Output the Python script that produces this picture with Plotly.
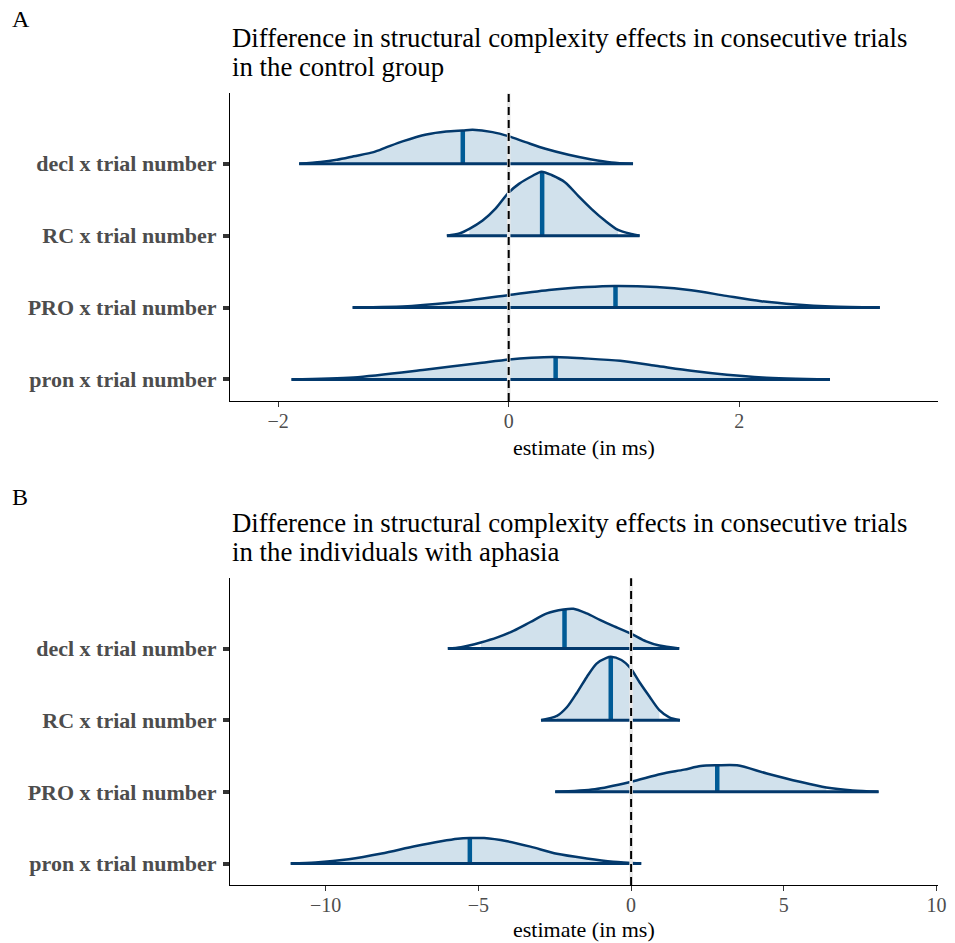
import plotly.graph_objects as go

W, H = 955, 943

# ---------------- data ----------------
params = ["pron x trial number", "PRO x trial number", "RC x trial number", "decl x trial number"]

# Panel A: control group (estimate, scaled density height in row units)
a_pron_x = [-1.883, -1.344, -0.727, -0.266, 0.006, 0.197, 0.382, 0.660, 0.967, 1.275, 1.584, 1.892, 2.200, 2.786]
a_pron_d = [0, 0.028, 0.135, 0.225, 0.278, 0.301, 0.312, 0.292, 0.259, 0.190, 0.120, 0.065, 0.028, 0]
a_pro_x = [-1.353, -0.839, -0.385, 0.003, 0.372, 0.675, 0.917, 1.280, 1.583, 1.886, 2.188, 2.491, 2.795, 3.218]
a_pro_d = [0, 0.023, 0.09, 0.175, 0.248, 0.285, 0.300, 0.285, 0.241, 0.162, 0.088, 0.042, 0.014, 0]
a_rc_x = [-0.536, -0.427, -0.341, -0.226, -0.112, -0.003, 0.089, 0.204, 0.284, 0.376, 0.490, 0.605, 0.719, 0.834, 0.948, 1.064, 1.135]
a_rc_d = [0, 0.032, 0.095, 0.21, 0.38, 0.595, 0.72, 0.83, 0.89, 0.84, 0.74, 0.55, 0.37, 0.21, 0.08, 0.023, 0]
a_decl_x = [-1.817, -1.631, -1.488, -1.344, -1.172, -1.058, -0.914, -0.714, -0.542, -0.398, -0.312, -0.140, -0.003, 0.146, 0.318, 0.519, 0.719, 0.891, 1.078]
a_decl_d = [0, 0.023, 0.056, 0.104, 0.162, 0.231, 0.315, 0.407, 0.449, 0.463, 0.472, 0.440, 0.384, 0.301, 0.208, 0.125, 0.060, 0.019, 0]
a_median = [0.407, 0.926, 0.290, -0.398]
a_median_d = [0.312, 0.300, 0.89, 0.463]
a_inner_lo = [-1.344, -0.839, -0.341, -1.488]
a_inner_hi = [2.200, 2.795, 0.948, 0.719]
a_ticks = [-2, 0, 2]
a_ticktext = ["\u22122", "0", "2"]

# Panel B: individuals with aphasia
b_pron_x = [-11.143, -10.331, -9.247, -8.166, -7.084, -6.218, -5.675, -5.276, -4.812, -4.052, -3.295, -2.429, -1.455, -0.591, 0.331]
b_pron_d = [0, 0.014, 0.06, 0.140, 0.24, 0.31, 0.345, 0.355, 0.355, 0.31, 0.235, 0.135, 0.070, 0.025, 0]
b_pro_x = [-2.484, -1.185, -0.016, 0.979, 1.737, 2.278, 2.819, 3.468, 4.442, 5.526, 6.390, 7.256, 8.101]
b_pro_d = [0, 0.037, 0.14, 0.25, 0.31, 0.36, 0.37, 0.37, 0.256, 0.14, 0.06, 0.018, 0]
b_rc_x = [-2.948, -2.429, -2.104, -1.779, -1.455, -1.130, -0.805, -0.666, -0.318, -0.027, 0.276, 0.601, 0.925, 1.250, 1.597]
b_rc_d = [0, 0.06, 0.18, 0.38, 0.60, 0.79, 0.87, 0.885, 0.84, 0.73, 0.53, 0.33, 0.14, 0.04, 0]
b_decl_x = [-6.00, -5.568, -4.919, -4.378, -3.837, -3.295, -2.754, -2.213, -1.889, -1.456, -1.023, -0.590, -0.027, 0.493, 0.925, 1.575]
b_decl_d = [0, 0.019, 0.085, 0.155, 0.25, 0.37, 0.49, 0.545, 0.555, 0.49, 0.40, 0.315, 0.213, 0.10, 0.042, 0]
b_median = [-5.28, 2.82, -0.666, -2.18]
b_median_d = [0.355, 0.37, 0.885, 0.545]
b_inner_lo = [-10.331, -1.185, -2.429, -4.919]
b_inner_hi = [-0.591, 6.390, 0.925, 0.925]
b_ticks = [-10, -5, 0, 5, 10]
b_ticktext = ["\u221210", "\u22125", "0", "5", "10"]

title_a = ["Difference in structural complexity effects in consecutive trials", "in the control group"]
title_b = ["Difference in structural complexity effects in consecutive trials", "in the individuals with aphasia"]
x_title = "estimate (in ms)"

# ---------------- style ----------------
FONT = "Liberation Serif, Times New Roman, serif"
FILL = "#d1e1ec"
DARK = "#03396c"
MID = "#005b96"
TICKCOL = "#333333"
LABCOL = "#4d4d4d"

X0, X1 = 232, 946           # pixel extents of plotting area (horizontal)
A_TOP, A_BOT = 93.3, 401
B_TOP, B_BOT = 578.3, 885
YR = [0.70, 4.98]


def px2x(p):
    return p / W


def py2y(p):
    return 1 - p / H


fig = go.Figure()


def add_density(xs, ds, row, lo, hi, med, medd, xa, ya):
    ys = [row + d for d in ds]
    idx = [i for i, x in enumerate(xs) if lo <= x <= hi]
    xi = [xs[i] for i in idx]
    yi = [ys[i] for i in idx]
    common = dict(xaxis=xa, yaxis=ya, hoverinfo="skip", showlegend=False, mode="lines")
    fig.add_trace(go.Scatter(x=xi, y=[row] * len(xi), line=dict(width=0, color=FILL), **common))
    fig.add_trace(go.Scatter(x=xi, y=yi, line=dict(width=0, color=FILL, shape="spline", smoothing=0.8),
                             fill="tonexty", fillcolor=FILL, **common))
    fig.add_trace(go.Scatter(x=[med, med], y=[row, row + medd], line=dict(color=MID, width=4.5), **common))
    fig.add_trace(go.Scatter(x=xs, y=ys, line=dict(color=DARK, width=2.5, shape="spline", smoothing=0.8), **common))
    fig.add_trace(go.Scatter(x=[xs[0], xs[-1]], y=[row, row], line=dict(color=DARK, width=3), **common))


a_sets = [(a_pron_x, a_pron_d), (a_pro_x, a_pro_d), (a_rc_x, a_rc_d), (a_decl_x, a_decl_d)]
b_sets = [(b_pron_x, b_pron_d), (b_pro_x, b_pro_d), (b_rc_x, b_rc_d), (b_decl_x, b_decl_d)]

for k, (xs, ds) in enumerate(a_sets):
    add_density(xs, ds, k + 1, a_inner_lo[k], a_inner_hi[k], a_median[k], a_median_d[k], "x", "y")
for k, (xs, ds) in enumerate(b_sets):
    add_density(xs, ds, k + 1, b_inner_lo[k], b_inner_hi[k], b_median[k], b_median_d[k], "x2", "y2")

xaxis_common = dict(
    showgrid=False, zeroline=False, showline=True, linecolor="black", linewidth=1.3,
    ticks="outside", ticklen=5, tickwidth=1, tickcolor=TICKCOL, ticklabelstandoff=-3,
    tickfont=dict(family=FONT, size=20, color=LABCOL),
)
yaxis_common = dict(
    showgrid=False, zeroline=False, showline=True, linecolor="black", linewidth=1.3,
    ticks="outside", ticklen=6, tickwidth=4, tickcolor=TICKCOL, range=YR,
    tickvals=[1, 2, 3, 4], ticktext=params, ticklabelstandoff=2,
    tickfont=dict(family=FONT, size=22, color=LABCOL, weight="bold"),
)

fig.update_layout(
    width=W, height=H, margin=dict(l=0, r=0, t=0, b=0),
    paper_bgcolor="white", plot_bgcolor="white", showlegend=False,
    xaxis=dict(domain=[px2x(X0), px2x(X1)], anchor="y", range=[-2.416, 3.723],
               tickvals=a_ticks, ticktext=a_ticktext, **xaxis_common),
    yaxis=dict(domain=[py2y(A_BOT), py2y(A_TOP)], anchor="x", **yaxis_common),
    xaxis2=dict(domain=[px2x(X0), px2x(X1)], anchor="y2", range=[-13.13, 10.05],
                tickvals=b_ticks, ticktext=b_ticktext, **xaxis_common),
    yaxis2=dict(domain=[py2y(B_BOT), py2y(B_TOP)], anchor="x2", **yaxis_common),
)

# zero reference lines
for xr, yr in (("x", "y domain"), ("x2", "y2 domain")):
    fig.add_shape(type="line", xref=xr, yref=yr, x0=0, x1=0, y0=0, y1=1,
                  line=dict(color="#e8e8e8", width=3.5))
    fig.add_shape(type="line", xref=xr, yref=yr, x0=0, x1=0, y0=0, y1=1,
                  line=dict(color="black", width=2, dash="8px,5px"))

ann = []


def text(t, xpx, ypx, size, xanchor="left", color="black"):
    ann.append(dict(text=t, x=px2x(xpx), y=py2y(ypx), xref="paper", yref="paper",
                    xanchor=xanchor, yanchor="middle", showarrow=False,
                    font=dict(family=FONT, size=size, color=color)))


text("A", 10, 19, 24)
text(title_a[0], 232, 38, 26.8)
text(title_a[1], 232, 67, 26.8)
text(x_title, (X0 + X1) / 2, 447, 22, xanchor="center")
text("B", 10, 497, 24)
text(title_b[0], 232, 523, 26.8)
text(title_b[1], 232, 552, 26.8)
text(x_title, (X0 + X1) / 2, 929, 22, xanchor="center")
fig.update_layout(annotations=ann)

fig.write_html("out.html")
